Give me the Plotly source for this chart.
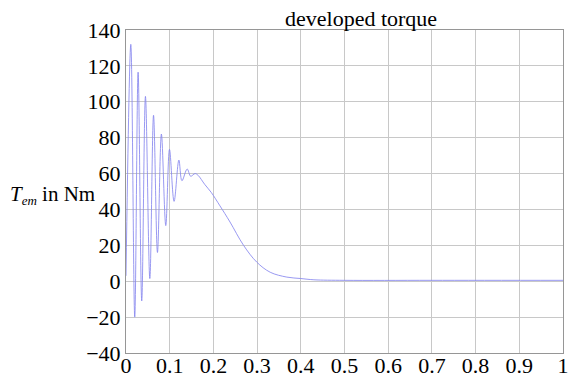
import plotly.graph_objects as go

# time in s, torque in Nm
t_s = [0.0, 0.011, 0.020, 0.0277, 0.036, 0.0445, 0.0545, 0.063, 0.072, 0.081,
       0.091, 0.0995, 0.110, 0.121, 0.128, 0.140, 0.148, 0.158, 0.165, 0.180,
       0.195, 0.215, 0.238, 0.269, 0.299, 0.330, 0.368, 0.400, 0.430, 0.500,
       0.700, 1.000]
torque_nm = [3.0, 132.0, -20.0, 116.5, -11.0, 103.0, 1.5, 92.5, 16.0, 82.0,
             31.0, 73.5, 44.5, 67.5, 56.0, 62.5, 58.5, 60.0, 59.0, 54.0,
             49.5, 42.0, 33.0, 20.0, 10.7, 5.0, 2.3, 1.5, 0.8, 0.5,
             0.5, 0.5]

x_ticks = [0, 0.1, 0.2, 0.3, 0.4, 0.5, 0.6, 0.7, 0.8, 0.9, 1]
x_tick_text = ["0", "0.1", "0.2", "0.3", "0.4", "0.5", "0.6", "0.7", "0.8", "0.9", "1"]
y_ticks = [-40, -20, 0, 20, 40, 60, 80, 100, 120, 140]
y_tick_text = ["\u221240", "\u221220", "0", "20", "40", "60", "80", "100", "120", "140"]

title_text = "developed torque"
ylabel_text = ("<i>T</i><sub><i><span style='font-size:13px'>em</span></i></sub>"
               " in Nm")

font_family = "Liberation Serif"
grid_color = "rgb(200,200,200)"

fig = go.Figure()
fig.add_trace(go.Scatter(
    x=t_s, y=torque_nm, mode="lines",
    line=dict(color="rgb(135,135,238)", width=0.85, shape="spline", smoothing=1.0),
    hoverinfo="skip",
))

fig.update_layout(
    width=572, height=378,
    margin=dict(l=126, r=9, t=30, b=25, autoexpand=False),
    plot_bgcolor="white", paper_bgcolor="white",
    showlegend=False,
    font=dict(family=font_family, size=22, color="black"),
    annotations=[
        dict(text=title_text, xref="paper", yref="paper", x=0.538, y=1.0,
             xanchor="center", yanchor="bottom", showarrow=False,
             font=dict(family=font_family, size=22, color="black"), yshift=-3),
        dict(text=ylabel_text, xref="paper", yref="paper", x=0.0, y=0.49,
             xanchor="right", yanchor="middle", showarrow=False, xshift=-29,
             font=dict(family=font_family, size=21, color="black")),
    ],
)
fig.update_xaxes(
    range=[0, 1], tickvals=x_ticks, ticktext=x_tick_text, automargin=False,
    showgrid=True, gridcolor=grid_color, gridwidth=1,
    showline=True, linecolor="rgb(150,150,150)", linewidth=1, mirror=True,
    ticks="", zeroline=False, tickfont=dict(size=22), ticklabelstandoff=-7,
)
fig.update_yaxes(
    range=[-40, 140], tickvals=y_ticks, ticktext=y_tick_text, automargin=False,
    showgrid=True, gridcolor=grid_color, gridwidth=1,
    showline=True, linecolor="rgb(150,150,150)", linewidth=1, mirror=True,
    ticks="", zeroline=False, tickfont=dict(size=22),
)

fig.write_html("out.html")
